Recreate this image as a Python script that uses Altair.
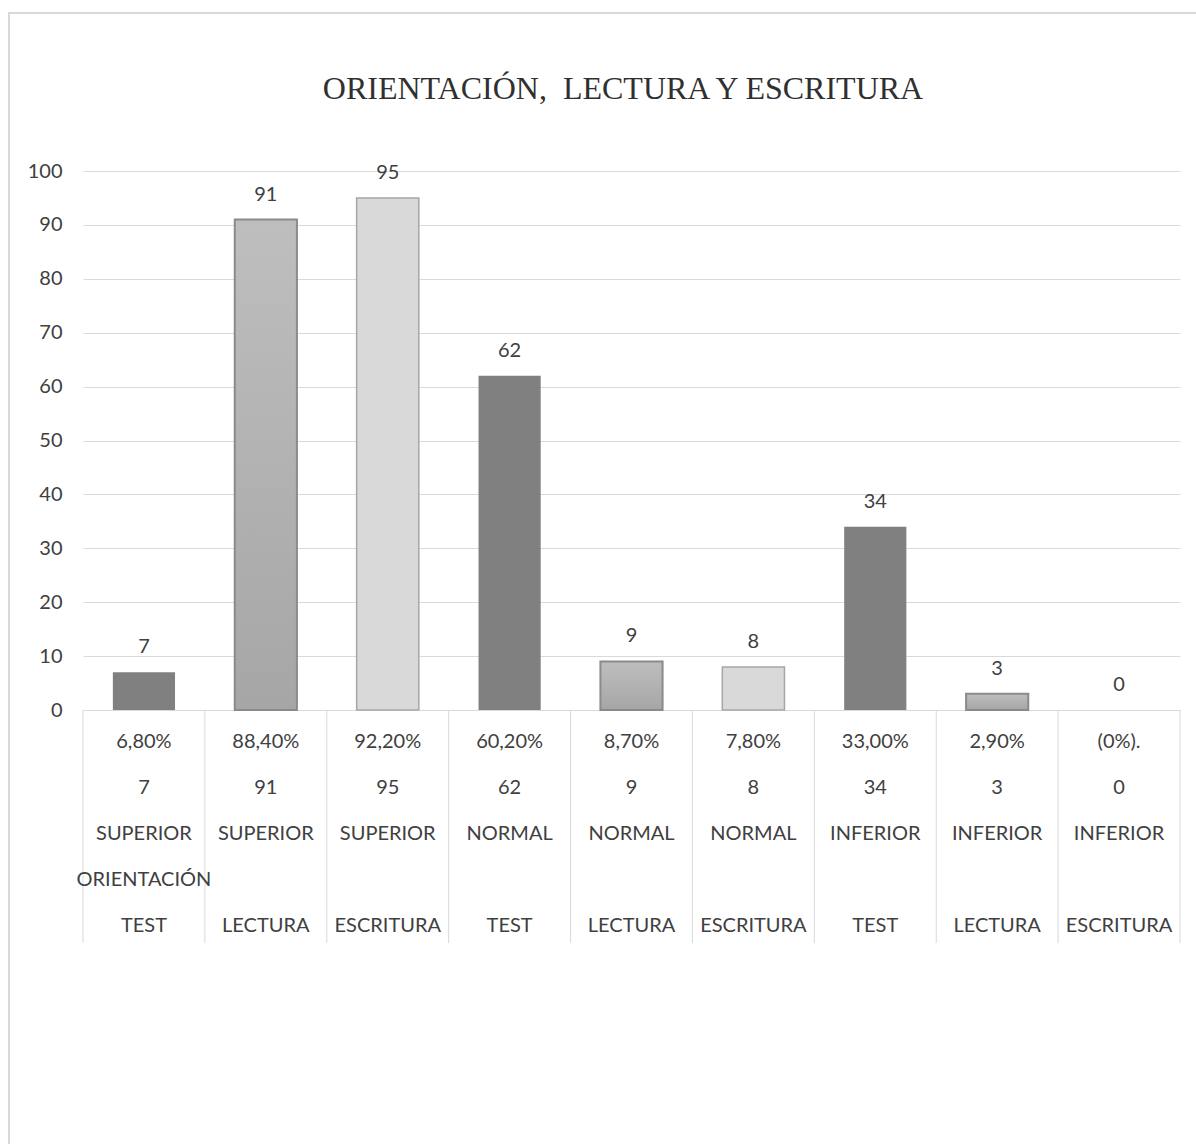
import altair as alt
import pandas as pd

# Chart data
titulo = "ORIENTACIÓN,\u00a0 LECTURA Y ESCRITURA"
niveles = ["SUPERIOR", "SUPERIOR", "SUPERIOR", "NORMAL", "NORMAL", "NORMAL",
           "INFERIOR", "INFERIOR", "INFERIOR"]
pruebas = ["TEST", "LECTURA", "ESCRITURA", "TEST", "LECTURA", "ESCRITURA",
           "TEST", "LECTURA", "ESCRITURA"]
valores = [7, 91, 95, 62, 9, 8, 34, 3, 0]
porcentajes = ["6,80%", "88,40%", "92,20%", "60,20%", "8,70%", "7,80%",
               "33,00%", "2,90%", "(0%)."]
grupos = ["ORIENTACIÓN", "", "", "", "", "", "", "", ""]
ticks_y = [0, 10, 20, 30, 40, 50, 60, 70, 80, 90, 100]

claves = [f"{n}-{p}" for n, p in zip(niveles, pruebas)]
df = pd.DataFrame({
    "clave": claves,
    "nivel": niveles,
    "prueba": pruebas,
    "valor": valores,
    "pct": porcentajes,
    "grupo": grupos,
})

W, H = 1097, 539
FONT = "Lato"
TXT = "#404040"
FS = 20

x_enc = alt.X("clave:N", sort=claves,
              scale=alt.Scale(paddingInner=0.49, paddingOuter=0.245),
              axis=None)
y_enc = alt.Y("valor:Q", scale=alt.Scale(domain=[0, 100], nice=False),
              axis=alt.Axis(values=ticks_y, grid=True, gridColor="#d9d9d9",
                            gridWidth=1, domain=False, ticks=False,
                            labelPadding=21, labelFontSize=FS,
                            labelFont=FONT, labelColor=TXT, title=None))

base = alt.Chart(df).encode(x=x_enc)

bar_test = base.transform_filter(alt.datum.prueba == "TEST").mark_bar(
    color="#808080").encode(y=y_enc)

grad_lectura = alt.Gradient(
    gradient="linear",
    stops=[alt.GradientStop(color="#bebebe", offset=0),
           alt.GradientStop(color="#a6a6a6", offset=1)],
    x1=0, x2=0, y1=0, y2=1)
bar_lect = base.transform_filter(alt.datum.prueba == "LECTURA").mark_bar(
    color=grad_lectura, stroke="#8a8a8a", strokeWidth=2).encode(y=y_enc)

bar_escr = base.transform_filter(
    (alt.datum.prueba == "ESCRITURA") & (alt.datum.valor > 0)).mark_bar(
    color="#d9d9d9", stroke="#a6a6a6", strokeWidth=1.5).encode(y=y_enc)

etiquetas = base.mark_text(baseline="middle", dy=-25, fontSize=FS,
                           font=FONT, color=TXT).encode(
    y=alt.Y("valor:Q"), text=alt.Text("valor:Q"))


def fila(campo, y_px):
    return base.mark_text(baseline="middle", fontSize=FS, font=FONT,
                          color=TXT).encode(y=alt.value(y_px),
                                            text=alt.Text(campo))


fila_pct = fila("pct:N", H + 32)
fila_val = fila("valor:Q", H + 78)
fila_niv = fila("nivel:N", H + 124)
fila_grp = fila("grupo:N", H + 170)
fila_pru = fila("prueba:N", H + 216)

categorias = alt.layer(bar_test, bar_lect, bar_escr, etiquetas,
                       fila_pct, fila_val, fila_niv, fila_grp, fila_pru)

# vertical separators of the category table
bordes = pd.DataFrame({"borde": list(range(len(claves) + 1))})
separadores = alt.Chart(bordes).mark_rule(color="#d9d9d9", strokeWidth=1).encode(
    x=alt.X("borde:Q", scale=alt.Scale(domain=[0, len(claves)], nice=False,
                                       zero=False), axis=None),
    y=alt.value(H),
    y2=alt.value(H + 233),
)

titulo_txt = alt.Chart(pd.DataFrame({"t": [titulo]})).mark_text(
    font="Liberation Serif", fontSize=32, color="#303030", baseline="middle").encode(
    x=alt.value(540), y=alt.value(-82), text="t:N")

marco = alt.Chart(pd.DataFrame({"m": [0]})).mark_rect(
    filled=False, stroke="#d9d9d9", strokeWidth=2).encode(
    x=alt.value(-74), x2=alt.value(1150), y=alt.value(-158), y2=alt.value(1000))

chart = alt.layer(marco, separadores, categorias, titulo_txt).resolve_scale(
    x="independent"
).properties(
    width=W, height=H,
    autosize=alt.AutoSizeParams(type="none"),
    padding={"left": 83, "top": 171, "right": 16, "bottom": 434},
    background="white",
).configure_view(stroke=None)

chart.save("out.html", embed_options={"renderer": "svg", "actions": False})
